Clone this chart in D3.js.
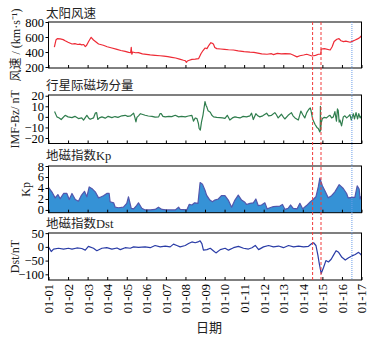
<!DOCTYPE html>
<html><head><meta charset="utf-8">
<script src="https://cdn.jsdelivr.net/npm/d3@7"></script>
<style>body{margin:0;background:#fff}svg{display:block}</style>
</head><body><svg id="c" width="374" height="337"></svg>
<script>
const dateLabels = ["01-01","01-02","01-03","01-04","01-05","01-06","01-07","01-08","01-09","01-10","01-11","01-12","01-13","01-14","01-15","01-16","01-17"];
const panelTitles = ["太阳风速","行星际磁场分量","地磁指数Kp","地磁指数Dst"];
const swTicks = [200,400,600,800];
const bzTicks = [-20,-10,0,10,20];
const kpTicks = [0,2,4,6,8];
const dstTicks = [-100,-50,0,50];
const eventDays = [13.5, 13.93];
const markDays = [15.51];

const swDays = [0.3,0.38,0.45,0.6,0.75,0.85,1.0,1.2,1.35,1.5,1.6,1.7,1.8,1.88,1.95,2.05,2.18,2.3,2.56,2.8,3.0,3.24,3.5,3.7,3.92,4.1,4.2,4.23,4.26,4.3,4.45,4.6,4.8,5.0,5.2,5.45,5.7,5.9,6.1,6.3,6.5,6.7,6.9,6.99,7.05,7.1,7.2,7.33,7.5,7.67,7.8,7.9,8.0,8.1,8.2,8.3,8.38,8.43,8.5,8.6,8.8,9.0,9.2,9.45,9.7,10.0,10.3,10.5,10.7,10.9,11.17,11.4,11.5,11.7,11.9,12.1,12.35,12.5,12.7,12.85,13.04,13.2,13.47,13.65,13.8,13.92,13.94,14.1,14.4,14.5,14.6,14.74,14.85,14.95,15.08,15.2,15.42,15.55,15.68,15.8,15.9,15.99];
const swVals = [465,560,578,575,565,550,530,507,512,500,505,495,500,472,490,540,596,560,507,490,470,453,435,420,409,395,392,463,370,400,390,391,375,368,362,356,350,345,338,329,320,305,290,284,262,280,290,302,305,311,380,420,453,445,490,524,515,507,460,445,440,435,430,427,415,405,398,396,385,375,370,378,365,382,375,378,376,360,335,350,360,370,347,355,370,372,440,445,427,470,540,570,578,550,538,545,530,545,560,575,590,613];

const bzDays = [0.31,0.43,0.55,0.65,0.85,1.0,1.2,1.35,1.53,1.7,1.79,1.96,2.05,2.13,2.3,2.39,2.46,2.52,2.6,2.73,2.9,3.05,3.24,3.4,3.55,3.75,3.92,4.05,4.2,4.35,4.42,4.47,4.52,4.6,4.7,4.78,4.94,5.1,5.29,5.45,5.63,5.7,5.76,5.85,5.97,6.15,6.3,6.48,6.65,6.8,6.99,7.15,7.33,7.41,7.5,7.59,7.66,7.7,7.76,7.82,7.9,8.0,8.05,8.1,8.16,8.27,8.35,8.44,8.6,8.76,8.9,9.02,9.14,9.27,9.4,9.53,9.65,9.79,9.95,10.12,10.3,10.38,10.47,10.6,10.7,10.8,10.95,11.15,11.25,11.4,11.57,11.65,11.74,11.91,12.0,12.08,12.25,12.42,12.5,12.6,12.77,12.9,13.0,13.1,13.2,13.3,13.38,13.42,13.5,13.62,13.72,13.79,13.87,13.89,13.9,13.91,13.94,14.0,14.1,14.2,14.3,14.39,14.47,14.56,14.64,14.72,14.77,14.81,14.86,14.9,14.98,15.07,15.15,15.24,15.33,15.41,15.48,15.58,15.64,15.72,15.8,15.86,15.93,15.99];
const bzVals = [5,0,-1,-2.5,1.5,0,-0.7,0.5,-1.6,-1,-3,1.5,-1,-2.3,-1,3.5,4,-2.5,-1,0,-1.2,0.5,-0.7,0.3,-0.5,1,1.5,0.5,1,3.5,-1,-4.8,-0.5,1,3,2.5,1.5,0.8,0.5,-0.3,0,3,3,0.5,0,0.5,0.2,1.5,0,0.5,0,0.8,1.5,-4,-1,-1.7,-6,-11,-12.5,-5,2,14.5,11,9,5.7,4.4,1.5,0,-0.5,-0.7,-1,-1.5,1.5,-3,-1,0,-0.5,-1,0.5,0,1,3.5,-2.5,3,1,0,1,3.5,1,1.5,4,2,-1,2.5,0,-2,1.5,4,1,-1,-3,5.5,2,-1,4,7,8.5,6,-2,-7,-10,-11,-14.3,-13,10,-13,-6,-1.5,-0.5,-1,0.5,1.5,-1,0,5,-4,7.5,6,-5,-3,-8.5,0,1,-1,0.5,2,-3,3,-2,4,-2,3,-1,1];

const kpDays = [0,0.17,0.34,0.48,0.6,0.77,0.94,1.06,1.2,1.37,1.53,1.67,1.84,1.96,2.08,2.25,2.39,2.56,2.7,2.81,2.98,3.1,3.15,3.33,3.41,3.58,3.83,4.0,4.09,4.23,4.35,4.5,4.6,4.77,4.94,5.2,5.45,5.62,5.8,6.0,6.48,6.65,6.73,7.07,7.19,7.33,7.47,7.64,7.75,7.87,8.0,8.08,8.25,8.38,8.5,8.68,8.84,9.02,9.19,9.36,9.53,9.7,9.87,10.04,10.12,10.3,10.47,10.6,10.72,10.89,11.06,11.18,11.32,11.49,11.83,11.96,12.09,12.25,12.37,12.51,12.71,12.85,12.99,13.19,13.39,13.53,13.67,13.79,13.87,14.0,14.13,14.3,14.47,14.64,14.86,15.07,15.24,15.32,15.58,15.66,15.78,15.88,15.93,15.97];
const kpVals = [4.1,3.3,2.2,2.8,2.05,3,3,1.9,3,1.9,1.6,2.6,3.4,2.4,4.2,3.8,3.3,2.2,2.4,2.6,3,3.0,1.5,1.3,0.5,0.4,0.5,1.2,2.4,0.3,0.2,0.8,1.3,0.3,0,0,0.1,0.5,0.1,0,0,0.5,0.1,0,1.0,0.9,1.3,1.2,5.0,4.7,3.6,2.7,1.8,1.5,1.8,2.0,2.6,2.6,1.8,0.5,1.8,2.7,1.8,1.4,1.0,1.2,1.3,2.0,0.8,0.9,1.3,0.2,0.4,0.6,0.7,1.0,0.1,0.3,0.9,0.3,0.2,1.2,0.2,0.8,1.5,1.9,2.4,4.2,5.8,4.4,3.5,2.2,2.6,3.3,4.6,3.9,3.0,2.2,2.3,2.3,4.4,3.8,2.0,2.5];

const dstDays = [0,0.14,0.26,0.51,0.77,1.02,1.2,1.45,1.7,1.88,2.04,2.3,2.47,2.73,2.98,3.24,3.5,3.67,3.92,4.18,4.35,4.6,4.94,5.2,5.45,5.71,5.97,6.22,6.39,6.56,6.73,6.99,7.16,7.33,7.5,7.64,7.75,7.84,7.92,8.1,8.27,8.44,8.56,8.78,9.03,9.2,9.46,9.71,9.97,10.22,10.4,10.57,10.74,10.99,11.25,11.5,11.76,12.01,12.27,12.53,12.78,13.04,13.29,13.46,13.55,13.67,13.77,13.84,13.94,14.06,14.18,14.31,14.45,14.57,14.7,14.83,15.0,15.17,15.34,15.51,15.68,15.85,15.93,15.99];
const dstVals = [0,-17,-8,-5,-8,-5,-8,-4,-6,-12,2,-5,-14,-5,-3,-8,-4,-10,-3,-5,0,-2,0,-3,5,0,3,0,10,5,0,5,12,18,15,18,22,12,-12,-10,-5,-15,-22,-10,-5,-12,-3,2,-5,-8,-3,5,-10,0,5,0,3,-3,5,0,3,0,2,12,15,5,-30,-60,-97,-75,-50,-55,-45,-30,-14,-20,-38,-48,-40,-33,-28,-20,-25,-30];

const svg = d3.select("#c");
const serif = "'Liberation Serif','Times New Roman',serif";
const cjk = "'Liberation Serif','Noto Sans CJK SC',serif";
const L = 48.5, R = 361.5;
const x = d3.scaleLinear().domain([0,16]).range([L,R]);

const panels = [
  {top:22, bot:68, dom:[187,800], ticks:swTicks, title:panelTitles[0], ty:18, days:swDays, vals:swVals, color:"#ee2b36", ylab:"风速 / (km·s⁻¹)", ylx:16},
  {top:95, bot:143.5, dom:[-25.2,20.7], ticks:bzTicks, title:panelTitles[1], ty:90, days:bzDays, vals:bzVals, color:"#2f7d4d", ylab:"IMF-Bz/ nT", ylx:15},
  {top:166, bot:212.7, dom:[-0.5,8], ticks:kpTicks, title:panelTitles[2], ty:160, days:kpDays, vals:kpVals, color:"#5257ad", fill:"#3592d6", ylab:"Kp", ylx:26},
  {top:233, bot:280, dom:[-120.7,50.5], ticks:dstTicks, title:panelTitles[3], ty:228, days:dstDays, vals:dstVals, color:"#2a3ca6", ylab:"Dst/nT", ylx:15}
];

panels.forEach((p,i)=>{
  const y = d3.scaleLinear().domain(p.dom).range([p.bot,p.top]);
  const g = svg.append("g");
  const data = p.days.map((d,k)=>[d,p.vals[k]]);
  if (p.fill) {
    g.append("path").datum(data)
      .attr("d", d3.area().x(d=>x(d[0])).y0(p.bot).y1(d=>y(d[1])))
      .attr("fill", p.fill);
  }
  g.append("path").datum(data)
    .attr("d", d3.line().x(d=>x(d[0])).y(d=>y(d[1])))
    .attr("fill","none").attr("stroke",p.color).attr("stroke-width",1.2).attr("stroke-linejoin","round");
  g.append("rect").attr("x",L).attr("y",p.top).attr("width",R-L).attr("height",p.bot-p.top)
    .attr("fill","none").attr("stroke","#000").attr("stroke-width",1);
  const ya = g.append("g").attr("transform",`translate(${L},0)`)
    .call(d3.axisLeft(y).tickValues(p.ticks).tickSize(3).tickPadding(1.5));
  ya.select(".domain").remove();
  ya.selectAll("text").attr("font-family",serif).attr("font-size",12.5).attr("fill","#000");
  const xa = g.append("g").attr("transform",`translate(0,${p.bot})`)
    .call(d3.axisBottom(x).tickValues(d3.range(17)).tickSize(-3).tickFormat(""));
  xa.select(".domain").remove();
  if (i===3) {
    const xl = g.append("g").attr("transform",`translate(0,${p.bot})`)
      .call(d3.axisBottom(x).tickValues(d3.range(17)).tickSize(0).tickFormat((d,k)=>dateLabels[k]));
    xl.select(".domain").remove();
    xl.selectAll("text").attr("font-family",serif).attr("font-size",12.5).attr("fill","#000")
      .attr("transform","rotate(-90)").attr("text-anchor","end").attr("dy","0.35em").attr("x",-4).attr("y",0);
  }
  svg.append("text").attr("x",46).attr("y",p.ty).text(p.title)
    .attr("font-family",cjk).attr("font-size",12.5).attr("fill","#222");
  // y label: centred on x = ylx
  svg.append("text").attr("transform",`translate(${p.ylx},${(p.top+p.bot)/2}) rotate(-90)`)
    .attr("text-anchor","middle").attr("dominant-baseline","central").text(p.ylab)
    .attr("font-family",cjk).attr("font-size",12).attr("fill","#222");
});

eventDays.forEach(d=>{
  svg.append("line").attr("x1",x(d)).attr("x2",x(d)).attr("y1",22).attr("y2",280)
    .attr("stroke","#f03a3a").attr("stroke-width",1).attr("stroke-dasharray","3,2");
});
markDays.forEach(d=>{
  svg.append("line").attr("x1",x(d)).attr("x2",x(d)).attr("y1",22).attr("y2",280)
    .attr("stroke","#6a9ee8").attr("stroke-width",1).attr("stroke-dasharray","1,1");
});

svg.append("text").attr("x",209).attr("y",332).attr("text-anchor","middle").text("日期")
  .attr("font-family",cjk).attr("font-size",13).attr("fill","#222");
</script>
</body></html>
